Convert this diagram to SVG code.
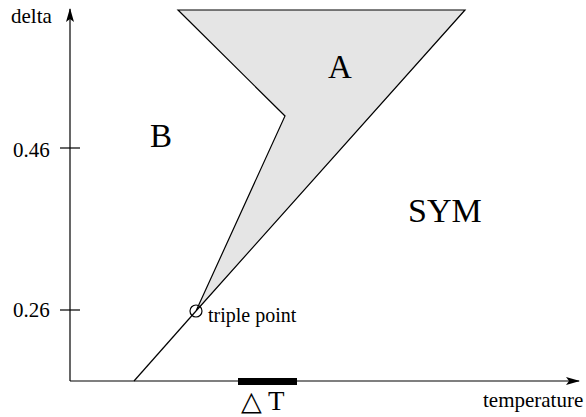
<svg xmlns="http://www.w3.org/2000/svg" width="586" height="417" viewBox="0 0 586 417">
<style>
text{font-family:"Liberation Serif","Times New Roman","DejaVu Serif",serif;fill:#000}
.sm{font-size:21px}
.bg{font-size:33px}
.ln{stroke:#000;stroke-width:1.2;fill:none}
</style>
<defs>
<marker id="ar" markerWidth="14" markerHeight="8" refX="13" refY="4" orient="auto" markerUnits="userSpaceOnUse">
<path d="M0,0 L14,4 L0,8 L3,4 Z" fill="#000"/>
</marker>
</defs>
<rect width="586" height="417" fill="#fff"/>
<g id="regionA">
<polygon points="178,10 465,10 196,311 285,116" fill="#e5e5e5" stroke="#000" stroke-width="1.2" stroke-linejoin="miter"/>
</g>
<g id="connectors">
<line class="ln" x1="70" y1="381" x2="70" y2="9" marker-end="url(#ar)"/>
<line class="ln" x1="70" y1="381" x2="579" y2="381" marker-end="url(#ar)"/>
<line class="ln" x1="60" y1="148" x2="80" y2="148"/>
<line class="ln" x1="60" y1="310" x2="80" y2="310"/>
<line class="ln" x1="196" y1="311" x2="134" y2="381"/>
<rect x="238" y="378" width="59" height="7" fill="#000"/>
</g>
<g id="triple">
<circle cx="196" cy="311" r="6" fill="none" stroke="#000" stroke-width="1.2"/>
<text x="208" y="322" font-size="20">triple point</text>
</g>
<g id="labels">
<text class="sm" x="11" y="23">delta</text>
<text class="sm" x="13" y="157">0.46</text>
<text class="sm" x="13" y="317">0.26</text>
<text class="bg" x="150" y="147">B</text>
<text class="bg" x="328" y="78">A</text>
<text x="408" y="222" font-size="34">SYM</text>
<text x="241" y="410" font-size="27" xml:space="preserve">△ T</text>
<text class="sm" x="483" y="407">temperature</text>
</g>
</svg>
